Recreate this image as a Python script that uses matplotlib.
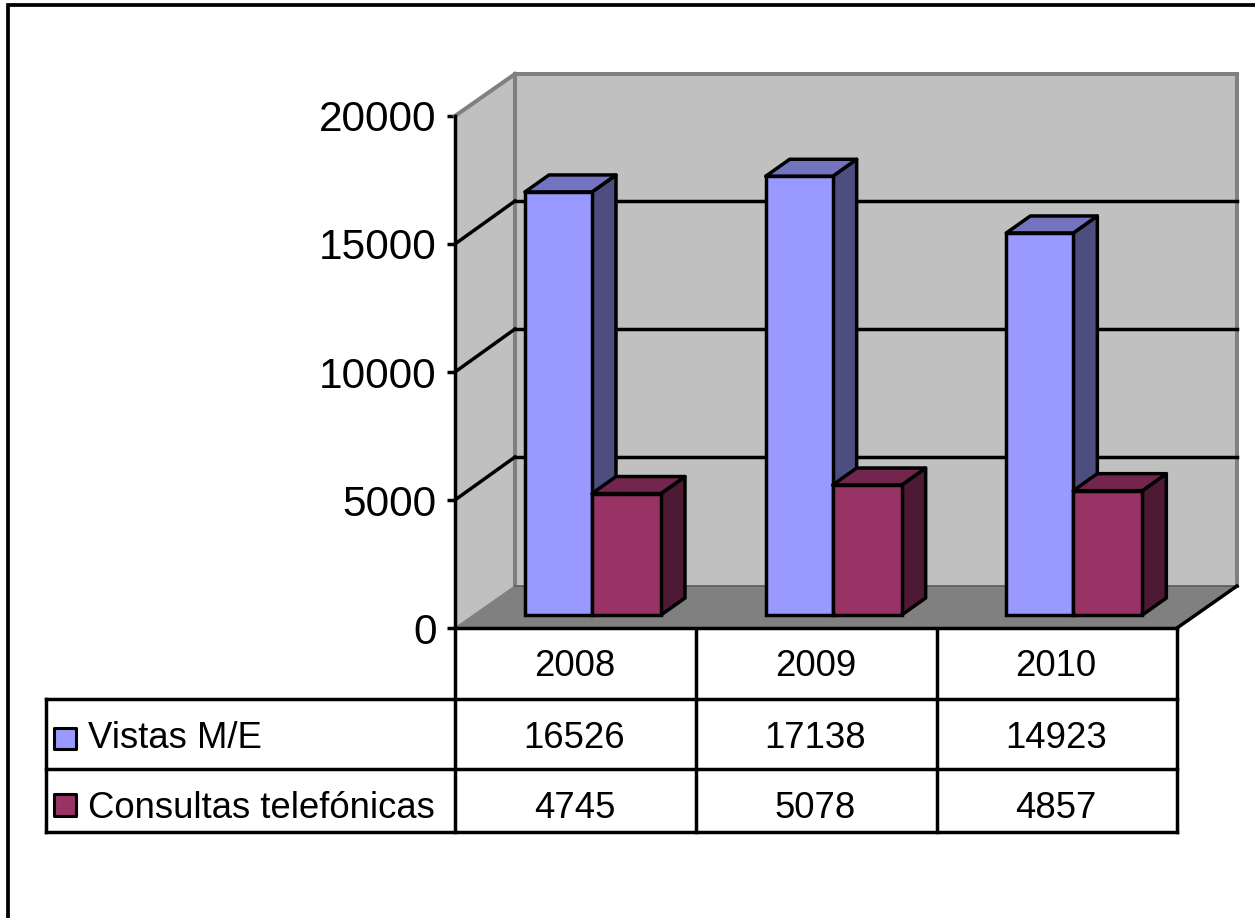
import matplotlib
matplotlib.use("Agg")
import matplotlib.pyplot as plt
from matplotlib.patches import Rectangle

plt.rcParams['font.family'] = ['Liberation Sans', 'DejaVu Sans']

# ---- data ----
years = ['2008', '2009', '2010']
series_names = ['Vistas M/E', 'Consultas telefónicas']
vistas = [16526, 17138, 14923]
consultas = [4745, 5078, 4857]
yticks = [0, 5000, 10000, 15000, 20000]

# ---- style ----
W, H = 1255, 918
L, R, B, T = 455, 1177, 628, 116     # front plane in pixels
WALL = '#C0C0C0'; FLOOR = '#808080'; EDGE = '#808080'
BLUE = ('#9999FF', '#7373BF', '#4D4D80')
MAROON = ('#993366', '#73264D', '#4D1933')
LW = 2.5
DEPTH = (60, 42)        # wall depth in pixels
GRID_DY = 43            # gridline rise along the side wall
BAR_FRONT = (18, 13)    # bar front plane offset in pixels
BAR_DEPTH = (24, 17)    # bar depth in pixels

fig = plt.figure(figsize=(W / 100, H / 100), dpi=100, facecolor='white')

# chrome axes in pixels: frame and table
bg = fig.add_axes([0, 0, 1, 1], zorder=0)
bg.set_xlim(0, W); bg.set_ylim(H, 0); bg.axis('off')
bg.plot([7.5, 7.5, W], [H, 5, 5], color='black', lw=LW + 0.2, solid_joinstyle='miter')

row_y = [628, 699, 769, 832]
col_x = [455, 696, 937, 1177]
for y in row_y[1:]:
    bg.plot([46, 1177], [y, y], color='black', lw=LW, solid_capstyle='projecting')
bg.plot([46, 46], [699, 832], color='black', lw=LW, solid_capstyle='projecting')
for x in col_x:
    bg.plot([x, x], [628, 832], color='black', lw=LW, solid_capstyle='projecting')

TS = 26.3
for j, yr in enumerate(years):
    cx = (col_x[j] + col_x[j + 1]) / 2 - 1
    bg.text(cx, 666, yr, ha='center', va='center', fontsize=TS)
    bg.text(cx, 738, str(vistas[j]), ha='center', va='center', fontsize=TS)
    bg.text(cx, 809, str(consultas[j]), ha='center', va='center', fontsize=TS)
for name, y in zip(series_names, (738, 809)):
    bg.text(88, y, name, ha='left', va='center', fontsize=TS)
for y0, cols in zip((727.5, 794), (BLUE, MAROON)):
    bg.add_patch(Rectangle((54, y0), 21.5, 21.5, fc=cols[0], ec='black', lw=2.2, joinstyle='round'))

# main axes: front plane of the chart
ax = fig.add_axes([L / W, 1 - B / H, (R - L) / W, (B - T) / H], zorder=1)
ax.set_xlim(0, len(years)); ax.set_ylim(0, 20000)
ax.patch.set_visible(False)
sx = (R - L) / len(years)
sy = (B - T) / 20000

def off(x, v, px=0, py=0):
    """Data position shifted by a pixel offset (px right, py up)."""
    return x + px / sx, v + py / sy

def poly(corners, **kw):
    xs = [c[0] for c in corners]; ys = [c[1] for c in corners]
    ax.fill(xs, ys, clip_on=False, **kw)

def seg(a, b, **kw):
    ax.plot([a[0], b[0]], [a[1], b[1]], clip_on=False, **kw)

n = len(years)
dx, dy = DEPTH
# side wall, back wall, floor
poly([off(0, 0), off(0, 20000), off(0, 20000, dx, dy), off(0, 0, dx, dy)], fc=WALL, ec='none', zorder=1)
poly([off(0, 0, dx, dy), off(0, 20000, dx, dy), off(n, 20000, dx, dy), off(n, 0, dx, dy)], fc=WALL, ec='none', zorder=1)
poly([off(0, 0), off(0, 0, dx, dy), off(n, 0, dx, dy), off(n, 0)], fc=FLOOR, ec='none', zorder=1)

# wall edges
for a, b in [(off(0, 20000), off(0, 20000, dx, dy)),
             (off(0, 20000, dx, dy), off(n, 20000, dx, dy)),
             (off(n, 20000, dx, dy), off(n, 0, dx, dy)),
             (off(0, 20000, dx, dy), off(0, 0, dx, dy))]:
    seg(a, b, color=EDGE, lw=2.9, zorder=2, solid_capstyle='projecting')
seg(off(0, 0), off(0, 0, dx, dy), color='#808080', lw=1, zorder=2)
seg(off(0, 0, dx, dy), off(n, 0, dx, dy), color='#5A5A5A', lw=1.2, zorder=2)
seg(off(n, 0), off(n, 0, dx, dy), color='black', lw=LW, zorder=2)

# gridlines
for v in yticks[1:-1]:
    seg(off(0, v), off(0, v, dx, GRID_DY), color='black', lw=LW, zorder=2)
    seg(off(0, v, dx, GRID_DY), off(n, v, dx, GRID_DY), color='black', lw=LW, zorder=2)

# bars
widths = (67 / sx, 69 / sx)
start = 52 / sx
fx, fy = BAR_FRONT
bx, by = BAR_DEPTH
z = 3
for s, (vals, cols) in enumerate(zip((vistas, consultas), (BLUE, MAROON))):
    for i, v in enumerate(vals):
        x0 = i + start + sum(widths[:s]) + fx / sx
        x1 = x0 + widths[s]
        base = fy / sy
        top = v + base
        z += 1
        poly([off(x1, base), off(x1, top), off(x1, top, bx, by), off(x1, base, bx, by)],
             fc=cols[2], ec='black', lw=LW, joinstyle='round', zorder=z)
        poly([off(x0, top), off(x0, top, bx, by), off(x1, top, bx, by), off(x1, top)],
             fc=cols[1], ec='black', lw=LW, joinstyle='round', zorder=z)
        ax.bar(x0, v, width=widths[s], bottom=base, align='edge', color=cols[0],
               edgecolor='black', linewidth=LW, clip_on=False, zorder=z)

# axes
ax.set_xticks([])
ax.set_yticks(yticks)
ax.tick_params(axis='y', length=5.6, width=LW, color='black', pad=7.5, labelsize=30.5)
for side in ('top', 'right'):
    ax.spines[side].set_visible(False)
for side in ('left', 'bottom'):
    ax.spines[side].set_linewidth(LW)
    ax.spines[side].set_zorder(30)

fig.savefig('out.png', dpi=100)
